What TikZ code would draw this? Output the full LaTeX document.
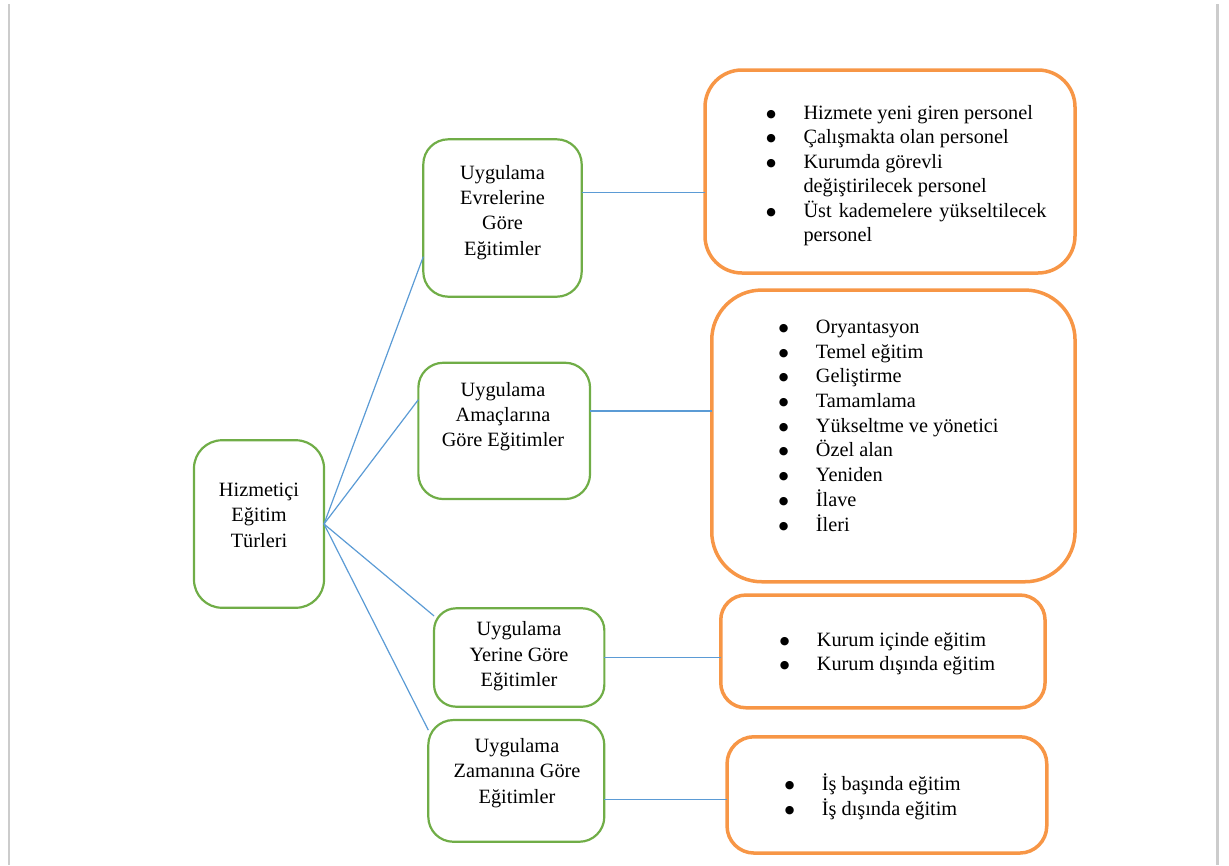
\documentclass[tikz,border=0pt]{standalone}
\usepackage{fontspec}
\setmainfont{Liberation Serif}
\newfontfamily\bulletfont{DejaVu Sans}
\definecolor{grn}{HTML}{70AD47}
\definecolor{org}{HTML}{F79646}
\definecolor{blu}{HTML}{5B9BD5}
\definecolor{pageedge}{HTML}{CCCCCC}
\tikzset{
  gbox/.style={draw=grn, line width=2.2pt, rounded corners=25pt, inner sep=0pt, outer sep=0pt},
  obox/.style={draw=org, line width=3.5pt, inner sep=0pt, outer sep=0pt},
  lbl/.style={font=\fontsize{20.3}{25.3}\selectfont, align=center, inner sep=0pt, anchor=base},
  lst/.style={font=\fontsize{20.3}{24.4}\selectfont, inner sep=0pt, anchor=base west},
  link/.style={draw=blu, line width=1.2pt},
  edgeline/.style={draw=pageedge, line width=2.4pt},
}
\newcommand{\bul}{\makebox[14pt][c]{\raisebox{2pt}{\bulletfont\fontsize{11}{11}\selectfont ●}}}
\newenvironment{blist}{\begin{tabular}[b]{@{}l@{\hspace{25.3pt}}l@{}}}{\end{tabular}}
\begin{document}
\begin{tikzpicture}[x=1pt,y=-1pt]
\useasboundingbox (0,0) rectangle (1229,865);
% page edges
\draw[edgeline] (8.8,4) -- (8.8,865);
\draw[edgeline] (1217.3,4) -- (1217.3,865);
% green boxes
\node[gbox, minimum width=130pt, minimum height=167.5pt, rounded corners=28pt] (b0) at (259,524) {};
\node[gbox, minimum width=158.4pt, minimum height=157.4pt] (b1) at (502.5,218) {};
\node[gbox, minimum width=171.7pt, minimum height=136.3pt] (b2) at (504.2,430.9) {};
\node[gbox, minimum width=170.3pt, minimum height=98.4pt, rounded corners=22pt] (b3) at (519.2,657.5) {};
\node[gbox, minimum width=176pt, minimum height=121.7pt] (b4) at (516.3,780.9) {};
% orange boxes
\node[obox, minimum width=370pt, minimum height=203pt, rounded corners=37pt] (o1) at (890,171.5) {};
\node[obox, minimum width=363.3pt, minimum height=291.7pt, rounded corners=50pt] (o2) at (893.4,435.9) {};
\node[obox, minimum width=324.3pt, minimum height=112.7pt, rounded corners=25pt] (o3) at (882.9,651.4) {};
\node[obox, minimum width=319.7pt, minimum height=116.3pt, rounded corners=27pt] (o4) at (886.9,794.9) {};
% labels (anchored at the baseline of their last line)
\node[lbl] (t0) at (259,547) {Hizmetiçi\\Eğitim\\Türleri};
\node[lbl] (t1) at (502.5,255) {Uygulama\\Evrelerine\\Göre\\Eğitimler};
\node[lbl] (t2) at (503,446.7) {Uygulama\\Amaçlarına\\Göre Eğitimler};
\node[lbl] (t3) at (519,686.5) {Uygulama\\Yerine Göre\\Eğitimler};
\node[lbl] (t4) at (517,803) {Uygulama\\Zamanına Göre\\Eğitimler};
% lists (anchored at the baseline of their last row; x = text start - 39.3)
\node[lst] (l1) at (764,241.5) {\begin{blist}
\bul & Hizmete yeni giren personel\\
\bul & Çalışmakta olan personel\\
\bul & Kurumda görevli\\
     & değiştirilecek personel\\
\bul & \makebox[243pt][s]{Üst kademelere yükseltilecek}\\
     & personel
\end{blist}};
\node[lst, font=\fontsize{20.3}{24.7}\selectfont] (l2) at (776.4,531) {\begin{blist}
\bul & Oryantasyon\\
\bul & Temel eğitim\\
\bul & Geliştirme\\
\bul & Tamamlama\\
\bul & Yükseltme ve yönetici\\
\bul & Özel alan\\
\bul & Yeniden\\
\bul & İlave\\
\bul & İleri
\end{blist}};
\node[lst] (l3) at (777.4,670.5) {\begin{blist}
\bul & Kurum içinde eğitim\\
\bul & Kurum dışında eğitim
\end{blist}};
\node[lst] (l4) at (782.4,815) {\begin{blist}
\bul & İş başında eğitim\\
\bul & İş dışında eğitim
\end{blist}};
% connectors
\draw[link] (b0.east) -- (b1.206);
\draw[link] (b0.east) -- (b2.160);
\draw[link] (b0.east) -- (b3.154);
\draw[link] (b0.east) -- (b4.150.5);
\draw[link] (b1.18.8) -- (b1.18.8 -| o1.west);
\draw[link] (b2.13.1) -- (b2.13.1 -| o2.west);
\draw[link] (b3.east) -- (b3.east -| o3.west);
\draw[link] (b4.348.4) -- (b4.348.4 -| o4.west);
\end{tikzpicture}
\end{document}
